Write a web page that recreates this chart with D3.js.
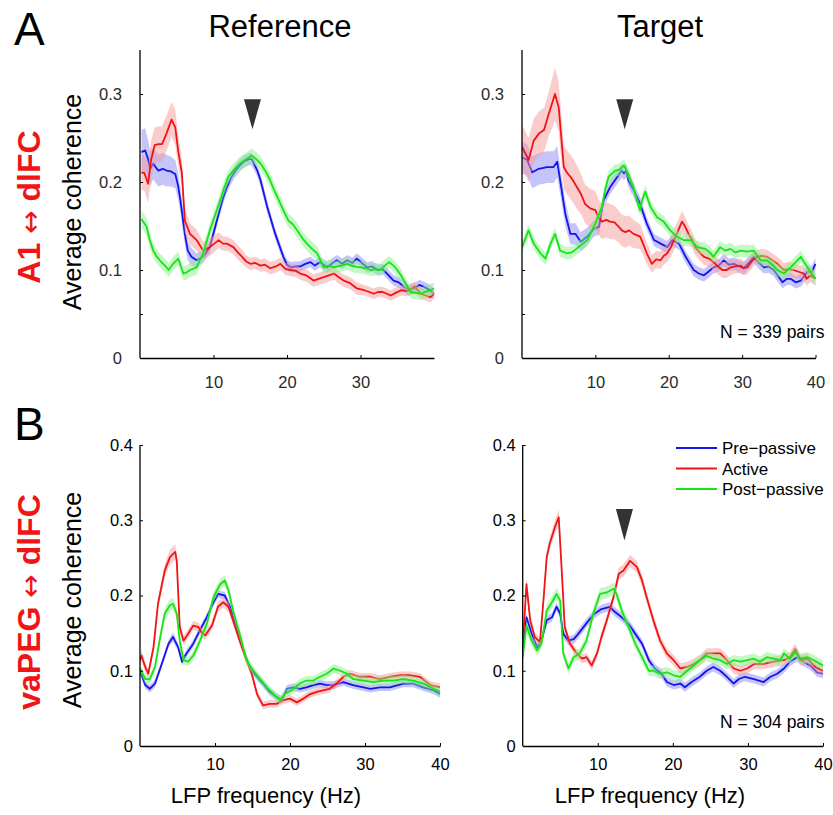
<!DOCTYPE html>
<html><head><meta charset="utf-8">
<script src="https://cdn.jsdelivr.net/npm/d3@7"></script>
<style>body{margin:0;background:#fff}svg{display:block;font-family:"Liberation Sans",Arial,sans-serif}</style>
</head><body>
<script>
// ---------- DATA: [frequency (Hz), mean coherence, s.e.m.] ----------
const seriesNames = ["Pre\u2212passive", "Active", "Post\u2212passive"];
const panelTitles = ["Reference", "Target"];
const rowLetters = ["A", "B"];
const rowLabelParts = [["A1", "dlFC"], ["vaPEG", "dlFC"]];
const nLabels = ["N = 339 pairs", "N = 304 pairs"];

const aRefPre = [[0.2,0.234,0.025],[0.7,0.236,0.025],[1.1,0.226,0.022],[1.4,0.215,0.02],[1.8,0.221,0.018],[2.2,0.216,0.018],[2.5,0.213,0.018],[3.1,0.215,0.018],[3.6,0.213,0.018],[4.2,0.212,0.017],[4.8,0.209,0.016],[5.2,0.195,0.015],[5.5,0.179,0.014],[6.1,0.141,0.012],[6.5,0.122,0.011],[7,0.115,0.01],[7.7,0.111,0.008],[8.6,0.115,0.007],[9.5,0.126,0.007],[10.1,0.145,0.007],[10.7,0.164,0.007],[11.3,0.182,0.007],[11.8,0.194,0.007],[12.4,0.205,0.007],[13,0.213,0.007],[13.6,0.219,0.007],[14.1,0.223,0.007],[14.8,0.226,0.007],[15.2,0.226,0.007],[15.5,0.221,0.007],[16,0.212,0.007],[16.4,0.202,0.007],[17.3,0.172,0.007],[18.4,0.141,0.006],[19.5,0.115,0.006],[20,0.106,0.006],[20.5,0.103,0.006],[21.2,0.104,0.006],[21.8,0.104,0.006],[22.5,0.107,0.006],[23.2,0.109,0.006],[23.8,0.105,0.006],[24.5,0.109,0.006],[25,0.106,0.006],[25.5,0.103,0.006],[26.2,0.108,0.006],[26.8,0.111,0.006],[27.5,0.107,0.006],[28.2,0.111,0.006],[28.9,0.108,0.006],[29.5,0.113,0.006],[30.2,0.108,0.006],[30.9,0.103,0.006],[31.6,0.104,0.006],[32.3,0.1,0.006],[33,0.101,0.006],[33.6,0.096,0.006],[34.5,0.088,0.006],[35.2,0.086,0.006],[35.9,0.081,0.006],[36.6,0.077,0.006],[37.3,0.079,0.006],[38,0.083,0.006],[38.6,0.081,0.006],[39.3,0.078,0.006],[40,0.073,0.006]];
const aRefAct = [[0.2,0.211,0.02],[0.6,0.21,0.02],[1.1,0.198,0.022],[1.5,0.225,0.022],[2,0.242,0.02],[2.5,0.243,0.02],[3,0.243,0.02],[3.6,0.255,0.02],[4.3,0.271,0.02],[4.8,0.262,0.02],[5.2,0.235,0.018],[5.7,0.21,0.016],[6.1,0.156,0.014],[6.8,0.141,0.012],[7.7,0.134,0.012],[8.6,0.122,0.01],[9.5,0.126,0.01],[10.7,0.134,0.009],[11.3,0.13,0.008],[11.8,0.13,0.008],[12.7,0.126,0.008],[13.3,0.12,0.008],[13.9,0.115,0.008],[14.4,0.11,0.007],[15,0.107,0.007],[15.7,0.108,0.007],[16.4,0.105,0.007],[17,0.106,0.007],[17.7,0.102,0.007],[18.5,0.104,0.007],[19.1,0.107,0.007],[19.8,0.101,0.007],[20.5,0.1,0.007],[21.2,0.099,0.007],[21.8,0.096,0.007],[22.6,0.094,0.007],[23.6,0.088,0.007],[24.3,0.09,0.007],[25,0.092,0.007],[25.7,0.094,0.007],[26.4,0.096,0.007],[27,0.092,0.007],[27.7,0.088,0.007],[28.6,0.085,0.007],[29.5,0.079,0.007],[30.5,0.077,0.006],[31.2,0.075,0.006],[31.8,0.073,0.006],[32.4,0.075,0.006],[33,0.075,0.006],[33.6,0.073,0.006],[34.1,0.071,0.006],[34.8,0.074,0.006],[35.5,0.077,0.006],[36.4,0.076,0.006],[37.3,0.081,0.006],[37.8,0.077,0.006],[38.2,0.073,0.006],[38.9,0.071,0.006],[39.5,0.069,0.006],[40,0.073,0.006]];
const aRefPost = [[0.2,0.158,0.01],[0.9,0.149,0.01],[1.3,0.135,0.009],[1.8,0.122,0.008],[2.2,0.116,0.008],[2.7,0.111,0.008],[3.5,0.104,0.008],[3.9,0.1,0.008],[4.5,0.107,0.008],[5.2,0.113,0.008],[5.9,0.096,0.008],[6.3,0.097,0.008],[6.8,0.1,0.008],[7.7,0.103,0.008],[8.6,0.119,0.008],[9.5,0.145,0.008],[10.2,0.162,0.008],[10.9,0.179,0.008],[11.4,0.192,0.008],[12,0.206,0.008],[12.8,0.214,0.008],[13.6,0.221,0.008],[14.5,0.226,0.008],[15.2,0.23,0.008],[15.8,0.226,0.008],[16.4,0.221,0.008],[17.1,0.212,0.008],[17.7,0.202,0.008],[18.3,0.19,0.008],[18.9,0.179,0.008],[19.6,0.166,0.008],[20.2,0.156,0.008],[20.8,0.152,0.008],[21.4,0.145,0.008],[22.1,0.136,0.008],[22.7,0.13,0.008],[23.4,0.124,0.008],[24.1,0.119,0.008],[24.6,0.11,0.007],[25,0.103,0.007],[25.7,0.105,0.007],[26.4,0.103,0.007],[27.3,0.105,0.007],[28.2,0.107,0.007],[29.1,0.104,0.007],[30,0.103,0.007],[30.7,0.102,0.007],[31.4,0.1,0.007],[32.1,0.101,0.007],[32.7,0.1,0.007],[33.3,0.105,0.007],[33.9,0.109,0.007],[34.5,0.105,0.007],[35,0.1,0.007],[35.5,0.094,0.007],[35.9,0.088,0.007],[36.4,0.081,0.007],[36.8,0.075,0.007],[37.5,0.074,0.007],[38.2,0.073,0.007],[39.1,0.076,0.007],[40,0.079,0.007]];

const aTgtPre = [[0,0.228,0.018],[0.7,0.225,0.018],[1.4,0.211,0.018],[2.3,0.215,0.018],[3.4,0.217,0.018],[4.3,0.217,0.018],[4.8,0.223,0.018],[5.2,0.202,0.016],[5.9,0.164,0.014],[6.6,0.141,0.012],[7.3,0.141,0.012],[8,0.132,0.011],[8.9,0.138,0.01],[9.8,0.147,0.009],[10.5,0.149,0.009],[11.1,0.179,0.008],[12,0.194,0.008],[13,0.206,0.008],[13.6,0.213,0.008],[13.9,0.21,0.008],[14.2,0.213,0.008],[14.5,0.202,0.008],[15.2,0.191,0.008],[16.1,0.175,0.008],[17,0.153,0.007],[18,0.134,0.007],[18.9,0.13,0.007],[19.8,0.126,0.007],[20.5,0.134,0.007],[21.4,0.13,0.007],[22.3,0.115,0.007],[23.4,0.1,0.007],[24.1,0.096,0.007],[24.8,0.094,0.007],[25.4,0.098,0.007],[26.1,0.103,0.007],[26.8,0.105,0.007],[27.5,0.111,0.007],[28.2,0.106,0.007],[28.9,0.107,0.007],[29.6,0.104,0.007],[30.2,0.102,0.007],[30.9,0.108,0.007],[31.6,0.115,0.007],[32.3,0.108,0.007],[33,0.103,0.007],[33.6,0.104,0.007],[34.3,0.1,0.007],[35,0.092,0.007],[35.5,0.086,0.007],[36.1,0.09,0.007],[36.6,0.09,0.007],[37.3,0.086,0.007],[38,0.088,0.007],[38.9,0.098,0.007],[39.5,0.098,0.007],[40,0.107,0.007]];
const aTgtAct = [[0,0.24,0.025],[0.9,0.225,0.025],[1.6,0.247,0.025],[2.3,0.255,0.025],[3,0.259,0.025],[3.6,0.276,0.025],[4.5,0.3,0.03],[5,0.285,0.028],[5.7,0.217,0.025],[6.1,0.211,0.025],[6.6,0.206,0.025],[7,0.201,0.025],[7.5,0.194,0.025],[8,0.187,0.023],[8.6,0.175,0.022],[9.3,0.17,0.022],[10,0.168,0.022],[10.4,0.16,0.02],[10.9,0.155,0.02],[11.5,0.157,0.02],[12,0.155,0.02],[12.6,0.154,0.019],[13.2,0.149,0.018],[13.6,0.145,0.018],[14.1,0.143,0.018],[14.6,0.145,0.017],[15.2,0.141,0.016],[16.1,0.138,0.014],[16.5,0.13,0.013],[17,0.119,0.012],[17.7,0.107,0.01],[18.3,0.112,0.01],[18.9,0.111,0.01],[19.3,0.116,0.01],[19.8,0.119,0.01],[20.3,0.126,0.011],[20.7,0.134,0.012],[21.2,0.143,0.012],[21.8,0.155,0.012],[22.2,0.15,0.011],[22.7,0.141,0.01],[23.2,0.134,0.009],[23.6,0.126,0.009],[24.2,0.12,0.009],[24.8,0.115,0.009],[25.5,0.113,0.009],[26.1,0.109,0.009],[26.7,0.104,0.009],[27.3,0.1,0.009],[27.9,0.1,0.009],[28.4,0.103,0.009],[29.1,0.104,0.008],[29.8,0.105,0.008],[30.2,0.102,0.008],[30.7,0.103,0.008],[31.3,0.11,0.008],[32,0.115,0.008],[32.7,0.116,0.008],[33.4,0.115,0.008],[34.1,0.111,0.008],[34.8,0.107,0.008],[35.7,0.1,0.008],[36.3,0.101,0.008],[37,0.1,0.008],[37.7,0.098,0.008],[38.4,0.096,0.008],[38.8,0.09,0.008],[39.3,0.094,0.008],[40,0.09,0.008]];
const aTgtPost = [[0,0.126,0.007],[0.9,0.145,0.007],[1.6,0.13,0.007],[2.5,0.119,0.007],[3.2,0.113,0.007],[3.9,0.13,0.007],[4.5,0.141,0.007],[5.2,0.122,0.007],[6.1,0.119,0.007],[6.8,0.12,0.007],[7.7,0.126,0.007],[8.9,0.134,0.007],[10,0.153,0.007],[10.9,0.172,0.007],[11.3,0.19,0.007],[11.8,0.206,0.007],[12.7,0.213,0.007],[13.3,0.214,0.007],[13.9,0.219,0.007],[14.5,0.209,0.007],[15.2,0.194,0.007],[15.6,0.18,0.007],[16.1,0.168,0.007],[16.4,0.18,0.007],[16.8,0.189,0.007],[17.5,0.172,0.007],[18.4,0.16,0.007],[19.3,0.155,0.007],[20.2,0.145,0.007],[21.1,0.138,0.007],[22,0.134,0.007],[23,0.134,0.007],[23.9,0.126,0.007],[25,0.124,0.007],[25.6,0.12,0.007],[26.1,0.115,0.007],[27,0.126,0.007],[27.7,0.122,0.007],[28.4,0.124,0.007],[29.1,0.12,0.007],[29.8,0.122,0.007],[30.7,0.121,0.007],[31.6,0.122,0.007],[32.5,0.111,0.007],[33.4,0.111,0.007],[34.1,0.106,0.007],[34.8,0.1,0.007],[35.7,0.096,0.007],[36.6,0.103,0.007],[37.3,0.109,0.007],[38,0.115,0.007],[38.9,0.103,0.007],[39.5,0.096,0.007],[40,0.09,0.007]];

const bRefPre = [[0,0.1,0.005],[0.7,0.081,0.005],[1.3,0.076,0.005],[2,0.083,0.005],[2.9,0.109,0.005],[3.8,0.136,0.005],[4.4,0.145,0.006],[5.1,0.131,0.005],[5.6,0.112,0.005],[6.2,0.123,0.005],[7.1,0.136,0.005],[8,0.154,0.005],[8.9,0.171,0.005],[9.8,0.191,0.005],[10.4,0.202,0.005],[11.3,0.2,0.005],[12,0.185,0.005],[12.9,0.154,0.005],[13.8,0.127,0.005],[14.7,0.103,0.005],[15.6,0.092,0.005],[16.4,0.083,0.005],[17.3,0.072,0.005],[18.2,0.065,0.005],[18.9,0.061,0.005],[19.6,0.076,0.005],[20.4,0.078,0.005],[21.3,0.076,0.005],[22.2,0.078,0.005],[23.1,0.081,0.005],[24,0.083,0.005],[24.9,0.081,0.005],[25.8,0.081,0.005],[27.1,0.085,0.005],[28.4,0.081,0.005],[29.8,0.078,0.005],[30.7,0.076,0.005],[32,0.078,0.005],[33.3,0.078,0.005],[35.1,0.083,0.005],[36.4,0.083,0.005],[37.8,0.078,0.005],[39.1,0.074,0.005],[40,0.069,0.005]];
const bRefAct = [[0,0.114,0.008],[0.2,0.12,0.008],[0.7,0.105,0.007],[1.1,0.096,0.006],[1.8,0.131,0.007],[2.4,0.189,0.008],[3.3,0.233,0.009],[4,0.251,0.01],[4.7,0.258,0.01],[4.9,0.246,0.009],[5.3,0.158,0.007],[5.8,0.14,0.006],[6.4,0.149,0.006],[7.1,0.16,0.006],[7.8,0.158,0.006],[8.2,0.151,0.006],[8.7,0.147,0.006],[9.6,0.16,0.006],[10.4,0.185,0.007],[11.1,0.191,0.007],[11.8,0.185,0.007],[12.4,0.167,0.006],[13.3,0.14,0.006],[14.2,0.114,0.005],[14.9,0.096,0.005],[15.6,0.069,0.005],[16.4,0.054,0.005],[17.3,0.056,0.005],[18.2,0.056,0.005],[19.1,0.061,0.005],[20,0.063,0.005],[20.9,0.058,0.005],[21.8,0.063,0.005],[22.7,0.069,0.005],[23.6,0.072,0.005],[24.4,0.074,0.005],[25.3,0.076,0.005],[26.2,0.083,0.005],[27.1,0.092,0.005],[28,0.096,0.005],[29.3,0.092,0.005],[30.7,0.092,0.005],[32,0.089,0.005],[33.3,0.092,0.005],[34.7,0.094,0.005],[36,0.094,0.005],[37.3,0.092,0.005],[38.7,0.081,0.005],[40,0.078,0.005]];
const bRefPost = [[0,0.103,0.006],[0.7,0.089,0.006],[1.3,0.089,0.006],[2,0.105,0.006],[2.7,0.145,0.007],[3.3,0.176,0.008],[4,0.187,0.008],[4.4,0.189,0.008],[4.9,0.176,0.008],[5.3,0.14,0.007],[5.8,0.114,0.006],[6.4,0.112,0.006],[7.1,0.12,0.006],[8,0.14,0.006],[8.9,0.162,0.006],[9.8,0.198,0.007],[10.7,0.215,0.007],[11.3,0.22,0.007],[11.8,0.207,0.007],[12.4,0.18,0.006],[13.3,0.149,0.006],[14.2,0.114,0.006],[15.1,0.1,0.006],[16,0.089,0.006],[16.9,0.078,0.006],[17.8,0.069,0.006],[18.7,0.061,0.006],[19.3,0.069,0.006],[20.2,0.074,0.006],[21.3,0.083,0.006],[22.2,0.087,0.006],[23.1,0.087,0.006],[24,0.092,0.006],[24.9,0.096,0.006],[25.8,0.103,0.006],[26.7,0.1,0.006],[27.6,0.096,0.006],[28.4,0.089,0.006],[29.8,0.087,0.006],[31.1,0.085,0.006],[32.4,0.087,0.006],[33.8,0.087,0.006],[35.1,0.089,0.006],[36.4,0.087,0.006],[37.8,0.083,0.006],[39.1,0.076,0.006],[40,0.072,0.006]];

const bTgtPre = [[0,0.123,0.006],[0.5,0.171,0.006],[1.2,0.149,0.006],[1.9,0.131,0.006],[2.5,0.14,0.006],[3.2,0.167,0.006],[3.9,0.171,0.006],[4.5,0.185,0.006],[5,0.176,0.006],[5.4,0.149,0.006],[6.1,0.14,0.006],[6.8,0.142,0.006],[7.4,0.149,0.006],[8.1,0.158,0.006],[8.8,0.167,0.006],[9.6,0.176,0.006],[10.5,0.182,0.006],[11.6,0.185,0.006],[12.3,0.178,0.006],[13.2,0.171,0.006],[14.1,0.162,0.006],[15,0.149,0.006],[15.9,0.136,0.006],[16.8,0.114,0.006],[17.6,0.103,0.006],[18.5,0.096,0.006],[19.2,0.085,0.006],[20.1,0.081,0.006],[21,0.083,0.006],[21.6,0.078,0.006],[22.5,0.085,0.006],[23.6,0.092,0.006],[24.5,0.1,0.006],[25.4,0.105,0.006],[26.3,0.1,0.006],[27.2,0.092,0.006],[28.1,0.083,0.006],[28.8,0.089,0.006],[29.6,0.092,0.006],[30.8,0.089,0.006],[32.1,0.085,0.006],[33,0.092,0.006],[33.9,0.096,0.006],[34.8,0.103,0.006],[35.6,0.112,0.006],[36.5,0.118,0.006],[37.4,0.112,0.006],[38.3,0.107,0.006],[39.2,0.098,0.006],[40,0.096,0.006]];
const bTgtAct = [[0,0.131,0.008],[0.5,0.215,0.008],[1,0.167,0.007],[1.6,0.145,0.006],[2.3,0.138,0.006],[2.8,0.198,0.007],[3.2,0.251,0.008],[3.6,0.269,0.008],[4.3,0.291,0.009],[4.8,0.304,0.01],[5.2,0.233,0.008],[5.6,0.158,0.007],[6.3,0.136,0.006],[7.2,0.123,0.006],[7.9,0.116,0.006],[8.5,0.118,0.006],[9.2,0.107,0.006],[9.9,0.123,0.006],[10.5,0.145,0.006],[11.2,0.167,0.007],[12.1,0.198,0.007],[12.8,0.229,0.008],[13.4,0.233,0.008],[14.3,0.246,0.008],[15.2,0.238,0.008],[15.9,0.22,0.008],[16.5,0.198,0.007],[17.4,0.167,0.007],[18.3,0.14,0.007],[19.2,0.123,0.007],[20.1,0.114,0.007],[21,0.103,0.007],[21.9,0.105,0.007],[22.8,0.109,0.007],[23.6,0.114,0.007],[24.5,0.123,0.007],[25.4,0.123,0.007],[26.3,0.123,0.007],[27.2,0.114,0.007],[28.1,0.103,0.007],[29,0.1,0.007],[29.9,0.103,0.007],[30.8,0.109,0.007],[32.1,0.109,0.007],[33.4,0.112,0.007],[34.8,0.114,0.007],[35.6,0.118,0.007],[36.3,0.129,0.007],[37,0.114,0.007],[37.9,0.116,0.007],[39,0.105,0.007],[40,0.1,0.007]];
const bTgtPost = [[0,0.118,0.008],[0.5,0.16,0.008],[1.2,0.14,0.007],[1.9,0.127,0.007],[2.5,0.136,0.007],[3.2,0.18,0.008],[3.9,0.191,0.008],[4.5,0.202,0.008],[5,0.193,0.008],[5.4,0.123,0.007],[6.1,0.103,0.007],[6.8,0.118,0.007],[7.6,0.123,0.007],[8.5,0.14,0.007],[9.4,0.176,0.008],[10.3,0.202,0.008],[11.2,0.204,0.008],[12.1,0.209,0.008],[12.5,0.202,0.008],[13.2,0.18,0.007],[14.1,0.158,0.007],[15,0.136,0.007],[15.9,0.118,0.007],[16.8,0.1,0.007],[17.4,0.1,0.007],[18.3,0.096,0.007],[19.2,0.098,0.007],[20.1,0.094,0.007],[21,0.092,0.007],[21.9,0.1,0.007],[22.8,0.107,0.007],[23.6,0.114,0.007],[24.5,0.12,0.007],[25.4,0.116,0.007],[26.3,0.114,0.007],[27.2,0.109,0.007],[28.1,0.114,0.007],[29,0.112,0.007],[29.9,0.114,0.007],[30.8,0.116,0.007],[31.6,0.112,0.007],[32.5,0.118,0.007],[33.4,0.116,0.007],[34.3,0.114,0.007],[34.8,0.123,0.007],[35.6,0.116,0.007],[36.3,0.125,0.007],[37,0.116,0.007],[37.9,0.118,0.007],[38.8,0.114,0.007],[40,0.107,0.007]];

const rowYTickValues = [[0, 0.05, 0.1, 0.2, 0.3], [0, 0.1, 0.2, 0.3, 0.4]];
const rowYTickLabels = [["0", "", "0.1", "0.2", "0.3"], ["0", "0.1", "0.2", "0.3", "0.4"]];
const xTickValues = [[10, 20, 30], [10, 20, 30, 40], [10, 20, 30, 40], [10, 20, 30, 40]];
const arrowFreq = [15.3, 14, null, 13.55];
const arrowTop = [0.294, 0.294, null, 0.315];
const arrowTip = [0.26, 0.26, null, 0.273];

// ---------- LAYOUT ----------
const colors = ["#1414ee", "#f01414", "#14e614"];
const bandColors = ["#8c8cf5", "#f59a9a", "#8ef08e"];
const panels = [
  {data:[aRefPre,aRefAct,aRefPost], row:0, x0:140, x1:434, y0:358, y1:50, ymax:0.35},
  {data:[aTgtPre,aTgtAct,aTgtPost], row:0, x0:522, x1:815.5, y0:358, y1:50, ymax:0.35},
  {data:[bRefPre,bRefAct,bRefPost], row:1, x0:140, x1:440, y0:746, y1:445, ymax:0.4},
  {data:[bTgtPre,bTgtAct,bTgtPost], row:1, x0:522.7, x1:823, y0:746, y1:445, ymax:0.4}
];

const svg = d3.select("body").append("svg").attr("width", 833).attr("height", 815);

panels.forEach((p, i) => {
  const x = d3.scaleLinear().domain([0, 40]).range([p.x0, p.x1]);
  const y = d3.scaleLinear().domain([0, p.ymax]).range([p.y0, p.y1]);
  const g = svg.append("g");
  const clipId = "clip" + i;
  g.append("clipPath").attr("id", clipId).append("rect")
    .attr("x", p.x0).attr("y", p.y1).attr("width", p.x1 - p.x0 + 2).attr("height", p.y0 - p.y1);
  const plot = g.append("g").attr("clip-path", `url(#${clipId})`);
  const area = d3.area().x(d => x(d[0])).y0(d => y(d[1] - d[2])).y1(d => y(d[1] + d[2]));
  const line = d3.line().x(d => x(d[0])).y(d => y(d[1]));
  p.data.forEach((s, k) => {
    plot.append("path").datum(s).attr("d", area).attr("fill", bandColors[k]).attr("fill-opacity", 0.5);
    plot.append("path").datum(s).attr("d", line).attr("fill", "none")
      .attr("stroke", colors[k]).attr("stroke-width", 1.8).attr("stroke-linejoin", "round");
  });

  const isA = p.row === 0;
  const yAxis = d3.axisLeft(y).tickValues(rowYTickValues[p.row])
    .tickFormat((d, j) => rowYTickLabels[p.row][j])
    .tickSizeInner(-3).tickSizeOuter(0).tickPadding(isA ? 18 : 7);
  const ya = g.append("g").attr("transform", `translate(${p.x0},0)`).call(yAxis);
  ya.select(".domain").attr("d", `M0,${p.y0}V${p.y1}`);
  const xAxis = d3.axisBottom(x).tickValues(xTickValues[i]).tickFormat(d3.format("d"))
    .tickSizeInner(-3).tickSizeOuter(0).tickPadding(isA ? 18 : 12);
  g.append("g").attr("transform", `translate(0,${p.y0})`).call(xAxis);
  g.selectAll(".domain").attr("stroke", "#000").attr("stroke-width", 1.3);
  g.selectAll(".tick line").attr("stroke", "#000").attr("stroke-width", 1);
  g.selectAll(".tick text").attr("font-size", 16.5).attr("font-family", "Liberation Sans, Arial, sans-serif")
    .attr("fill", isA ? "#2a2a2a" : "#000");

  if (arrowFreq[i] != null) {
    const cx = x(arrowFreq[i]);
    const t = y(arrowTop[i]), b = y(arrowTip[i]);
    g.append("path").attr("d", `M${cx - 8.5},${t}L${cx + 8.5},${t}L${cx},${b}Z`).attr("fill", "#333");
  }
});

// titles
const tf = "Liberation Sans, Arial, sans-serif";
[280, 660].forEach((cx, j) => svg.append("text").attr("x", cx).attr("y", 37).attr("text-anchor", "middle")
  .attr("font-size", 31).attr("font-family", tf).text(panelTitles[j]));
[45, 440].forEach((by, j) => svg.append("text").attr("x", 14).attr("y", by)
  .attr("font-size", 46).attr("font-family", tf).text(rowLetters[j]));
[207, 602].forEach((cy, j) => {
  const t = svg.append("text").attr("transform", `translate(40,${cy}) rotate(-90)`)
    .attr("text-anchor", "middle").attr("font-size", 32).attr("font-weight", "bold")
    .attr("fill", "#f01414").attr("font-family", tf);
  t.append("tspan").text(rowLabelParts[j][0] + " ");
  t.append("tspan").attr("font-family", "DejaVu Sans").attr("font-weight", "normal").attr("font-size", 28).text("\u2194");
  t.append("tspan").text(" " + rowLabelParts[j][1]);
});
[202, 600].forEach(cy => svg.append("text").attr("transform", `translate(81,${cy}) rotate(-90)`)
  .attr("text-anchor", "middle").attr("font-size", 25).attr("font-family", tf).text("Average coherence"));
[266, 650].forEach(cx => svg.append("text").attr("x", cx).attr("y", 803).attr("text-anchor", "middle")
  .attr("font-size", 22).attr("font-family", tf).text("LFP frequency (Hz)"));
[338, 728].forEach((by, j) => svg.append("text").attr("x", 720).attr("y", by)
  .attr("font-size", 17.5).attr("font-family", tf).text(nLabels[j]));

// legend
const leg = svg.append("g");
seriesNames.forEach((nm, k) => {
  const yy = 448 + k * 20.5;
  leg.append("line").attr("x1", 676).attr("x2", 717).attr("y1", yy).attr("y2", yy)
    .attr("stroke", colors[k]).attr("stroke-width", 2);
  leg.append("text").attr("x", 722).attr("y", yy + 6).attr("font-size", 17)
    .attr("font-family", tf).text(nm);
});
</script>
</body></html>
